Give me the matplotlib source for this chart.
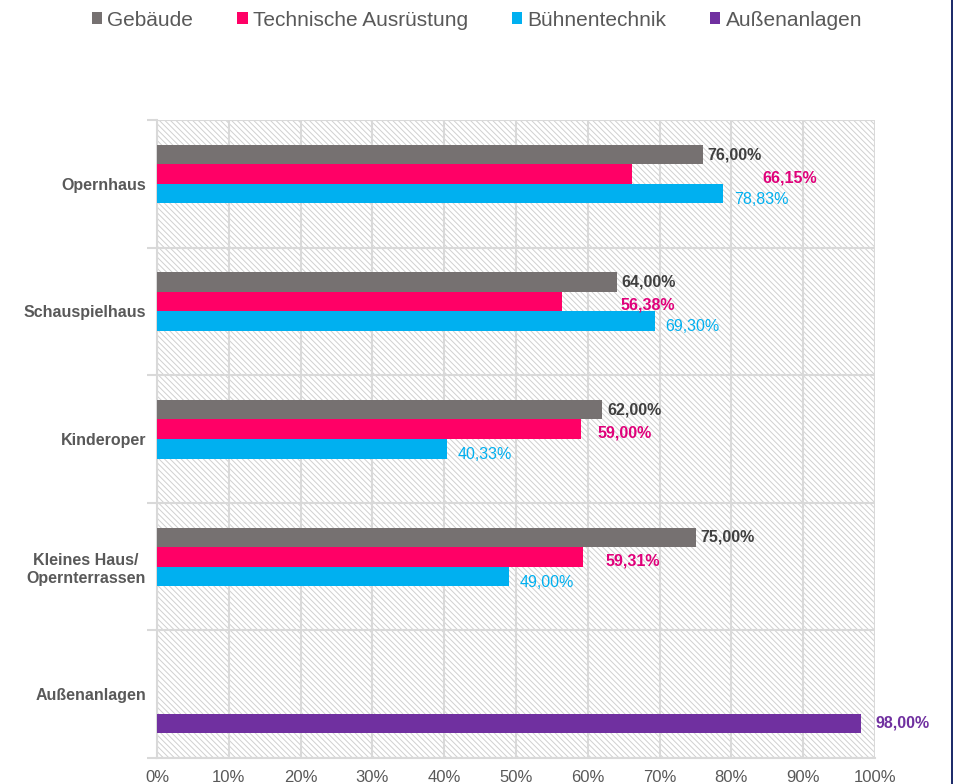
import matplotlib
matplotlib.use("Agg")
import matplotlib.pyplot as plt
import matplotlib.ticker as mticker
from matplotlib.patches import Rectangle
import numpy as np

plt.rcParams['font.family'] = ['Liberation Sans', 'DejaVu Sans']
plt.rcParams['hatch.linewidth'] = 0.7
plt.rcParams['hatch.color'] = '#D0D0D0'

categories = ["Opernhaus", "Schauspielhaus", "Kinderoper", "Kleines Haus/\nOpernterrassen", "Außenanlagen"]
series = ["Gebäude", "Technische Ausrüstung", "Bühnentechnik", "Außenanlagen"]
gebaeude = [76.00, 64.00, 62.00, 75.00, np.nan]
technik = [66.15, 56.38, 59.00, 59.31, np.nan]
buehne = [78.83, 69.30, 40.33, 49.00, np.nan]
aussen = [np.nan, np.nan, np.nan, np.nan, 98.00]
# pink labels sit off to the right in the original, at these x values
technik_label_x = [84.3, 64.6, 61.4, 62.4, np.nan]

GRAY = "#767171"
PINK = "#FF0066"
BLUE = "#00B0F0"
PURPLE = "#7030A0"
TXT = "#595959"
GRID = "#D9D9D9"


def fmt(v):
    return f"{v:.2f}".replace(".", ",") + "%"


fig = plt.figure(figsize=(9.54, 7.84), dpi=100)
ax = fig.add_axes([157 / 954, 26 / 784, 718 / 954, 638 / 784])

# hatched plot background
ax.add_patch(Rectangle((0, 0), 1, 1, transform=ax.transAxes, facecolor='white',
                       edgecolor='#D0D0D0', hatch='\\\\\\\\\\\\', linewidth=0, zorder=0))

y = np.arange(len(categories))
h = 0.153
vals = [gebaeude, technik, buehne, aussen]
cols = [GRAY, PINK, BLUE, PURPLE]
for k, (v, c) in enumerate(zip(vals, cols)):
    ax.barh(y + (k - 1.5) * h, v, height=h, color=c, zorder=3, label=series[k])

for i in range(len(categories)):
    if not np.isnan(gebaeude[i]):
        ax.text(gebaeude[i] + 0.7, y[i] - 1.5 * h, fmt(gebaeude[i]), va='center', ha='left',
                fontsize=11.5, fontweight='bold', color='#404040', zorder=4)
    if not np.isnan(technik[i]):
        ax.text(technik_label_x[i], y[i] - 0.5 * h + 0.03, fmt(technik[i]), va='center', ha='left',
                fontsize=11.5, fontweight='bold', color='#E0007A', zorder=4)
    if not np.isnan(buehne[i]):
        ax.text(buehne[i] + 1.5, y[i] + 0.5 * h + 0.045, fmt(buehne[i]), va='center', ha='left',
                fontsize=11.5, color=BLUE, zorder=4)
    if not np.isnan(aussen[i]):
        ax.text(aussen[i] + 2.1, y[i] + 1.5 * h, fmt(aussen[i]), va='center', ha='left',
                fontsize=11.5, fontweight='bold', color=PURPLE, zorder=4, clip_on=False)

ax.set_xlim(0, 100)
ax.set_ylim(len(categories) - 0.5, -0.5)
ax.xaxis.set_major_locator(mticker.MultipleLocator(10))
ax.xaxis.set_major_formatter(mticker.PercentFormatter(decimals=0))
ax.set_yticks(y)
ax.set_yticklabels(categories, fontsize=11.5, fontweight='bold', color=TXT,
                   ha='right', multialignment='center')
ax.set_yticks(np.arange(-0.5, len(categories)), minor=True)
ax.tick_params(axis='y', which='major', length=0, pad=8)
ax.tick_params(axis='y', which='minor', length=7, color=GRID, width=1.5)
ax.tick_params(axis='x', length=0, labelsize=12, labelcolor=TXT, pad=9)
ax.grid(axis='x', which='major', color=GRID, linewidth=1.5, zorder=1)
ax.grid(axis='y', which='minor', color=GRID, linewidth=1.5, zorder=1)
for s in ['top', 'right']:
    ax.spines[s].set_visible(False)
for s in ['left', 'bottom']:
    ax.spines[s].set_color(GRID)
    ax.spines[s].set_linewidth(1.5)
ax.set_axisbelow(True)

handles, labels = ax.get_legend_handles_labels()
leg = fig.legend(handles, labels, loc='center', bbox_to_anchor=(0.5, 1 - 20 / 784), ncol=4,
                 frameon=False, fontsize=15, handlelength=0.5, handleheight=0.5,
                 handletextpad=0.25, columnspacing=2.1)
for t in leg.get_texts():
    t.set_color(TXT)

# dark border line on the right edge
fig.add_artist(Rectangle((951 / 954, 0), 3 / 954, 1, transform=fig.transFigure,
                         color='#1F2D6B', linewidth=0))

fig.savefig("out.png", dpi=100, facecolor='white')
